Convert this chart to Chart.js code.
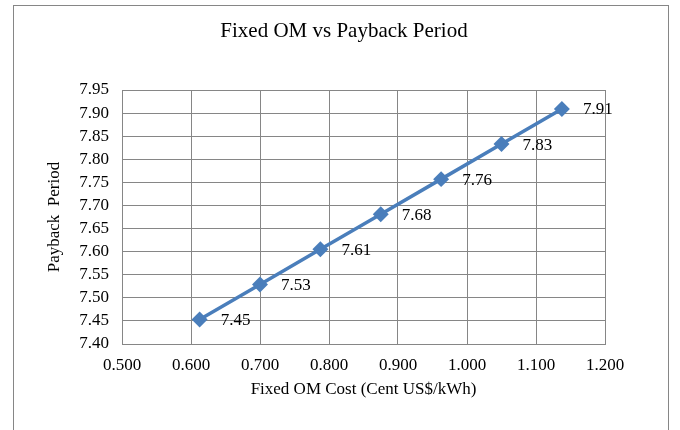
<!DOCTYPE html>
<html>
<head>
<meta charset="utf-8">
<script src="https://cdn.jsdelivr.net/npm/chart.js@4"></script>
<style>
  html, body { margin: 0; padding: 0; background: #fff; }
  #wrap { width: 680px; height: 430px; }
</style>
</head>
<body>
<div id="wrap"><canvas id="miGrafica"></canvas></div>
<script>
// data
const costos = [0.6125, 0.700, 0.7875, 0.875, 0.9625, 1.050, 1.1375];
const payback = [7.453, 7.529, 7.605, 7.681, 7.757, 7.833, 7.909];
const etiquetas = ["7.45", "7.53", "7.61", "7.68", "7.76", "7.83", "7.91"];
const titulo = "Fixed OM vs Payback Period";

const serif = "'Liberation Serif', 'Times New Roman', serif";
const gris = "#868686";

// outer frame and chart title
const marco = {
    id: "marco",
    beforeDraw(chart) {
        const ctx = chart.ctx;
        ctx.save();
        ctx.fillStyle = "#fff";
        ctx.fillRect(0, 0, chart.width, chart.height);
        ctx.strokeStyle = gris;
        ctx.lineWidth = 1;
        ctx.strokeRect(13.5, 5.5, 655, 440);
        ctx.font = "21px " + serif;
        ctx.fillStyle = "#000";
        ctx.textAlign = "center";
        ctx.textBaseline = "middle";
        ctx.fillText(titulo, 344, 31);
        ctx.restore();
    }
};

// value labels to the right of each point
const etiquetasPuntos = {
    id: "etiquetasPuntos",
    afterDatasetsDraw(chart) {
        const ctx = chart.ctx;
        const meta = chart.getDatasetMeta(0);
        ctx.save();
        ctx.font = "17px " + serif;
        ctx.fillStyle = "#000";
        ctx.textAlign = "left";
        ctx.textBaseline = "middle";
        meta.data.forEach((p, i) => {
            ctx.fillText(etiquetas[i], p.x + 21, p.y + 1);
        });
        ctx.restore();
    }
};

new Chart(document.getElementById("miGrafica"), {
    type: "scatter",
    data: {
        datasets: [{
            label: "Payback Period",
            data: costos.map((x, i) => ({ x: x, y: payback[i] })),
            showLine: true,
            borderColor: "#4A7EBB",
            backgroundColor: "#4A7EBB",
            borderWidth: 3.5,
            pointStyle: "rectRot",
            pointRadius: 5.5,
            pointHoverRadius: 5.5,
            tension: 0
        }]
    },
    options: {
        responsive: true,
        maintainAspectRatio: false,
        animation: false,
        layout: { padding: { top: 90, left: 44, right: 75, bottom: 26 } },
        plugins: {
            legend: { display: false },
            tooltip: { enabled: false },
            title: { display: false }
        },
        scales: {
            x: {
                type: "linear",
                min: 0.5,
                max: 1.2,
                ticks: {
                    stepSize: 0.1,
                    autoSkip: false,
                    maxRotation: 0,
                    color: "#000",
                    padding: 11,
                    font: { family: serif, size: 17 },
                    callback: (v) => v.toFixed(3)
                },
                grid: { color: gris, drawTicks: false },
                border: { color: gris },
                title: {
                    display: true,
                    text: "Fixed OM Cost (Cent US$/kWh)",
                    color: "#000",
                    font: { family: serif, size: 17 },
                    padding: { top: 4, bottom: 4 }
                },
                afterFit(scale) { scale.height = 60; }
            },
            y: {
                min: 7.40,
                max: 7.95,
                ticks: {
                    stepSize: 0.05,
                    autoSkip: false,
                    color: "#000",
                    padding: 13,
                    font: { family: serif, size: 17 },
                    callback: (v) => v.toFixed(2)
                },
                grid: { color: gris, drawTicks: false },
                border: { color: gris },
                title: {
                    display: true,
                    text: "Payback  Period",
                    color: "#000",
                    font: { family: serif, size: 17 },
                    padding: { top: 0, bottom: 0 }
                },
                afterFit(scale) { scale.width = 78; }
            }
        }
    },
    plugins: [marco, etiquetasPuntos]
});
</script>
</body>
</html>
